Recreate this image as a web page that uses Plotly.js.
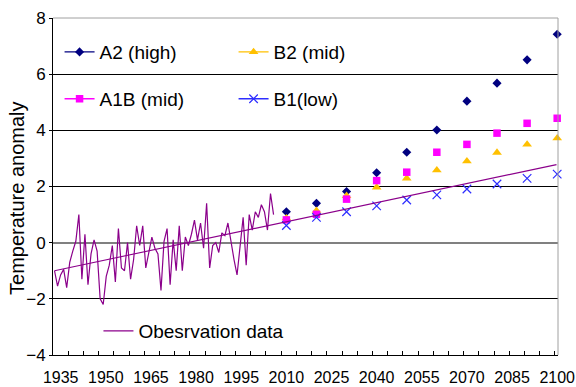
<!DOCTYPE html>
<html>
<head>
<meta charset="utf-8">
<script src="https://cdn.plot.ly/plotly-3.0.1.min.js"></script>
<style>html,body{margin:0;padding:0;background:#fff;}#chart{width:576px;height:387px;}</style>
</head>
<body>
<div id="chart"></div>
<script>
// ---- data ----
var obsYears = [];
for (var yr = 1935; yr <= 2007; yr++) obsYears.push(yr);
var obsValues = [
  -1.00, -1.55, -1.15, -0.95, -1.60, -0.70, -0.30, 0.05, 1.00, -1.30,
   0.30, -1.50, -0.40, 0.10, -0.30, -2.00, -2.20, -1.20, -0.80, -0.10,
  -1.40, 0.50, -0.90, -1.00, 0.00, -1.30, -0.60, 0.60, -0.10, 0.60,
  -0.90, -0.30, 0.20, -0.20, -0.40, -1.70, 0.05, 0.50, -1.50, 0.10,
  -1.00, 0.60, -1.00, 0.20, -0.10, 0.30, 0.80, 0.10, 0.70, -0.20,
   1.40, -0.90, -0.10, 0.00, -0.35, 0.35, 0.25, 0.70, 0.00, -0.60,
  -1.15, -0.15, 0.90, -0.80, 1.00, 0.45, 1.10, 0.90, 1.35, 1.10,
   0.45, 1.75, 1.00
];
var trendYears = [1935, 2100];
var trendValues = [-1.00, 2.78];

var projYears = [2010, 2020, 2030, 2040, 2050, 2060, 2070, 2080, 2090, 2100];
var a2High = [1.10, 1.40, 1.82, 2.49, 3.22, 4.01, 5.04, 5.68, 6.51, 7.42];
var a1bMid = [0.81, 1.01, 1.55, 2.21, 2.51, 3.22, 3.50, 3.90, 4.25, 4.43];
var b2Mid  = [0.87, 1.14, 1.67, 1.97, 2.29, 2.58, 2.90, 3.21, 3.50, 3.72];
var b1Low  = [0.61, 0.90, 1.10, 1.31, 1.52, 1.70, 1.91, 2.09, 2.29, 2.44];

var tickYears = [1935, 1950, 1965, 1980, 1995, 2010, 2025, 2040, 2055, 2070, 2085, 2100];
var yTicks = [-4, -2, 0, 2, 4, 6, 8];
var yTitle = 'Temperature anomaly';

// isolate points with gaps so only markers show in the plot, while the legend shows line+marker
function gapped(arr) {
  var out = [];
  arr.forEach(function (v, i) { if (i) out.push(null); out.push(v); });
  return out;
}

var FONT = 'Liberation Sans, Arial, sans-serif';

function proj(name, vals, symbol, color, size, lineColor, legendId) {
  return {
    type: 'scatter', mode: 'lines+markers', name: name,
    x: gapped(projYears), y: gapped(vals), connectgaps: false,
    xaxis: 'x', yaxis: 'y', legend: legendId,
    line: {color: lineColor, width: 1.3},
    marker: {symbol: symbol, size: size, color: color,
             line: {color: color, width: symbol.indexOf('x') === 0 ? 1.2 : 0}},
    cliponaxis: false
  };
}

var traces = [
  {type: 'scatter', mode: 'lines', name: 'Obesrvation data', x: obsYears, y: obsValues,
   xaxis: 'x2', yaxis: 'y', legend: 'legend3', line: {color: '#8B008B', width: 1.2}},
  {type: 'scatter', mode: 'lines', name: 'trend', x: trendYears, y: trendValues,
   xaxis: 'x2', yaxis: 'y', showlegend: false, line: {color: '#8B008B', width: 1.1}},
  proj('A2 (high)', a2High, 'diamond', '#000080', 7, '#000080', 'legend'),
  proj('B2 (mid)', b2Mid, 'triangle-up', '#FFC000', 8.5, '#FFC000', 'legend'),
  proj('A1B (mid)', a1bMid, 'square', '#FF00FF', 7.5, '#FF00FF', 'legend2'),
  proj('B1(low)', b1Low, 'x-thin', '#2E2EFF', 8.5, '#2E2EFF', 'legend2')
];

var legendBase = {
  orientation: 'h', xanchor: 'left', yanchor: 'middle',
  bgcolor: 'rgba(0,0,0,0)', borderwidth: 0,
  font: {family: FONT, size: 19, color: '#000'},
  entrywidth: 129, entrywidthmode: 'pixels', traceorder: 'normal'
};

var layout = {
  width: 576, height: 387,
  margin: {l: 53, r: 18, t: 18, b: 32, pad: 0},
  paper_bgcolor: '#fff', plot_bgcolor: '#fff',
  font: {family: FONT, color: '#000'},
  showlegend: true,
  legend: Object.assign({}, legendBase, {x: 0.013, y: 0.899}),
  legend2: Object.assign({}, legendBase, {x: 0.013, y: 0.760}),
  legend3: Object.assign({}, legendBase, {x: 0.090, y: 0.071, entrywidth: 0}),
  xaxis: {
    range: [1932.44, 2100.27], tickvals: tickYears, ticktext: tickYears.map(String),
    ticks: '', showgrid: false, zeroline: false, showline: false,
    tickfont: {family: FONT, size: 16, color: '#000'}, ticklabelstandoff: 11
  },
  xaxis2: {
    overlaying: 'x', anchor: 'y', side: 'bottom',
    range: [1934.5, 2100.5], tick0: 1934.5, dtick: 5,
    ticks: 'inside', ticklen: 4, tickcolor: '#000', tickwidth: 1,
    showticklabels: false, showgrid: false, zeroline: false,
    showline: true, linecolor: '#000', linewidth: 1
  },
  yaxis: {
    range: [-4, 8], tickvals: yTicks, ticks: 'outside', ticklen: 3, tickcolor: '#000',
    showgrid: true, gridcolor: '#000', gridwidth: 1,
    zeroline: true, zerolinecolor: '#808080', zerolinewidth: 2,
    showline: true, linecolor: '#000', linewidth: 1,
    tickfont: {family: FONT, size: 17, color: '#000'}
  },
  annotations: [
    {text: yTitle, xref: 'paper', yref: 'paper', x: -0.0713, y: 0.466,
     xanchor: 'center', yanchor: 'middle', textangle: -90, showarrow: false,
     font: {family: FONT, size: 20, color: '#000'}}
  ],
  shapes: [
    {type: 'line', xref: 'paper', yref: 'paper', x0: 0, x1: 1, y0: 1, y1: 1, line: {color: '#A0A0A0', width: 1}},
    {type: 'line', xref: 'paper', yref: 'paper', x0: 1, x1: 1, y0: 0, y1: 1, line: {color: '#A0A0A0', width: 1}}
  ]
};

Plotly.newPlot('chart', traces, layout, {staticPlot: true, displayModeBar: false});
</script>
</body>
</html>
